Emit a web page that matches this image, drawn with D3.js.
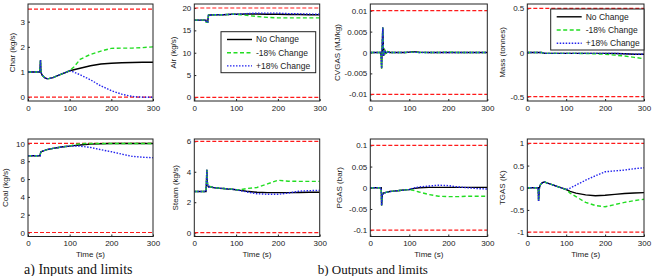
<!DOCTYPE html>
<html>
<head>
<meta charset="utf-8">
<script src="https://cdn.jsdelivr.net/npm/d3@7"></script>
<style>
body { margin: 0; background: #fff; }
svg { display: block; font-family: "Liberation Sans", Arial, sans-serif; }
</style>
</head>
<body>
<script>
// Time grids (s): the three runs share the first part, then split after ~100 s
const tEarly = [0, 27, 28, 29, 30, 31, 32, 34, 37, 40, 45, 50, 60, 70, 80, 90, 100];
const tLate = [110, 125, 150, 175, 200, 225, 250, 275, 300];

const seriesNames = ['No Change', '-18% Change', '+18% Change'];
const xTicks = [0, 100, 200, 300];

// Char (kg/s)
const charBase = [1.0, 1.0, 1.0, 1.2, 1.48, 1.05, 0.95, 0.88, 0.82, 0.78, 0.74, 0.74, 0.78, 0.85, 0.92, 0.98, 1.05];
const charNo = [1.09, 1.15, 1.25, 1.32, 1.35, 1.37, 1.38, 1.39, 1.39];
const charLow = [1.2, 1.5, 1.7, 1.83, 1.94, 1.95, 1.95, 1.97, 2.0];
const charHigh = [1.0, 0.89, 0.69, 0.45, 0.26, 0.12, 0.03, 0.0, 0.0];
const charTicks = [0, 1, 2, 3];
const charLimits = [0, 3.5];

// Air (kg/s)
const airBase = [17.3, 17.3, 17.3, 16.8, 16.8, 16.8, 16.8, 18.4, 18.45, 18.45, 18.5, 18.5, 18.5, 18.5, 18.55, 18.6, 18.6];
const airNo = [18.6, 18.65, 18.65, 18.6, 18.6, 18.55, 18.55, 18.5, 18.5];
const airLow = [18.5, 18.35, 18.1, 17.9, 17.8, 17.8, 17.8, 17.8, 17.8];
const airHigh = [18.65, 18.75, 18.85, 18.85, 18.85, 18.75, 18.7, 18.65, 18.6];
const airTicks = [0, 5, 10, 15, 20];
const airLimits = [0, 20];

// CVGAS (MJ/kg)
const cvBase = [0, 0, -0.001, -0.0038, 0, 0.003, 0.006, -0.0008, 0.0005, -0.0002, 0.0002, 0, 0, 0, 0, 0, 0.0001];
const cvNo = [0.0002, 0.0001, 0, 0, 0, 0, 0, 0, 0];
const cvLow = [0.0001, 0, 0, 0, 0.0001, 0, 0, 0, 0];
const cvHigh = [0.0001, 0, 0, 0, 0, 0, 0, 0, 0];
const cvTicks = [-0.01, -0.005, 0, 0.005, 0.01];
const cvLimits = [-0.01, 0.01];

// Mass (tonnes)
const massBase = [0, 0, 0, 0, 0, 0, 0, 0, 0, -0.005, -0.008, -0.01, -0.01, -0.01, -0.01, -0.01, -0.01];
const massNo = [-0.01, -0.01, -0.01, -0.01, -0.01, -0.012, -0.015, -0.02, -0.02];
const massLow = [-0.01, -0.01, -0.012, -0.015, -0.02, -0.03, -0.04, -0.055, -0.07];
const massHigh = [-0.01, -0.01, -0.01, -0.01, -0.01, -0.01, -0.015, -0.02, -0.02];
const massTicks = [-0.5, 0, 0.5];
const massLimits = [-0.5, 0.5];

// Coal (kg/s)
const coalBase = [8.62, 8.62, 8.62, 8.62, 8.9, 9.05, 9.08, 9.12, 9.18, 9.22, 9.3, 9.35, 9.45, 9.52, 9.6, 9.65, 9.7];
const coalNo = [9.75, 9.82, 9.92, 9.97, 10, 10, 10, 10, 10];
const coalLow = [9.85, 9.97, 10, 10, 10, 10, 10, 10, 10];
const coalHigh = [9.72, 9.7, 9.55, 9.3, 9.07, 8.8, 8.55, 8.45, 8.4];
const coalTicks = [0, 2, 4, 6, 8, 10];
const coalLimits = [0, 10];

// Steam (kg/s)
const steamBase = [2.7, 2.7, 2.7, 3.3, 4.13, 3.4, 3.1, 3.0, 3.03, 3.0, 2.97, 2.95, 2.92, 2.9, 2.87, 2.85, 2.82];
const steamNo = [2.78, 2.72, 2.65, 2.63, 2.63, 2.63, 2.64, 2.65, 2.65];
const steamLow = [2.82, 2.9, 2.97, 3.2, 3.44, 3.38, 3.37, 3.37, 3.37];
const steamHigh = [2.76, 2.68, 2.56, 2.52, 2.52, 2.6, 2.72, 2.76, 2.78];
const steamTicks = [0, 2, 4, 6];
const steamLimits = [0, 6];

// PGAS (bar)
const pgBase = [0, 0, 0, -0.042, -0.03, -0.012, -0.015, -0.012, -0.012, -0.011, -0.01, -0.009, -0.008, -0.007, -0.006, -0.005, -0.004];
const pgNo = [-0.002, 0, 0.001, 0.001, 0.001, 0.001, 0.001, 0.001, 0.001];
const pgLow = [-0.006, -0.01, -0.016, -0.02, -0.021, -0.021, -0.02, -0.02, -0.02];
const pgHigh = [-0.001, 0.002, 0.004, 0.006, 0.005, 0.002, 0, -0.002, -0.003];
const pgTicks = [-0.1, -0.05, 0, 0.05, 0.1];
const pgLimits = [-0.1, 0.1];

// TGAS (K)
const tgBase = [0, 0, 0, -0.3, -0.15, -0.02, 0.03, 0.07, 0.1, 0.12, 0.13, 0.11, 0.08, 0.05, 0.02, -0.01, -0.04];
const tgNo = [-0.08, -0.12, -0.16, -0.18, -0.17, -0.15, -0.13, -0.12, -0.11];
const tgLow = [-0.12, -0.2, -0.33, -0.4, -0.43, -0.38, -0.33, -0.29, -0.26];
const tgHigh = [-0.01, 0.06, 0.17, 0.27, 0.36, 0.38, 0.4, 0.43, 0.45];
const tgTicks = [-1, -0.5, 0, 0.5, 1];
const tgLimits = [-1, 1];

// layout (pixel boxes of the 8 small plots)
const cols = [[28, 153], [194.3, 319.7], [370.3, 487.3], [527.3, 644]];
const rows = [[4, 101], [139, 236.5]];

const panels = [
  {col: 0, row: 0, label: 'Char (kg/s)', off: 16, dom: [-0.15, 3.7], ticks: charTicks, lim: charLimits, base: charBase, runs: [charNo, charLow, charHigh]},
  {col: 1, row: 0, label: 'Air (kg/s)', off: 21, dom: [-0.8, 20.9], ticks: airTicks, lim: airLimits, base: airBase, runs: [airNo, airLow, airHigh], legend: [221, 31.7, 94.7, 41]},
  {col: 2, row: 0, label: 'CVGAS (MJ/kg)', off: 33.6, dom: [-0.0116, 0.0116], ticks: cvTicks, lim: cvLimits, base: cvBase, runs: [cvNo, cvLow, cvHigh]},
  {col: 3, row: 0, label: 'Mass (tonnes)', off: 25.6, dom: [-0.55, 0.55], ticks: massTicks, lim: massLimits, base: massBase, runs: [massNo, massLow, massHigh], legend: [550.7, 9, 93.3, 41]},
  {col: 0, row: 1, label: 'Coal (kg/s)', off: 22.7, dom: [-0.45, 10.5], ticks: coalTicks, lim: coalLimits, base: coalBase, runs: [coalNo, coalLow, coalHigh]},
  {col: 1, row: 1, label: 'Steam (kg/s)', off: 19.3, dom: [-0.25, 6.15], ticks: steamTicks, lim: steamLimits, base: steamBase, runs: [steamNo, steamLow, steamHigh]},
  {col: 2, row: 1, label: 'PGAS (bar)', off: 31.3, dom: [-0.115, 0.115], ticks: pgTicks, lim: pgLimits, base: pgBase, runs: [pgNo, pgLow, pgHigh]},
  {col: 3, row: 1, label: 'TGAS (K)', off: 25.6, dom: [-1.1, 1.1], ticks: tgTicks, lim: tgLimits, base: tgBase, runs: [tgNo, tgLow, tgHigh]}
];

// line styles for the three runs
const styles = [
  {color: '#000', dash: null},
  {color: '#22dd22', dash: '4,2.5'},
  {color: '#2222ee', dash: '1.5,1.5'}
];

const svg = d3.select('body').append('svg')
  .attr('width', 654)
  .attr('height', 276);

panels.forEach((p, i) => {
  const [x0, x1] = cols[p.col];
  const [y0, y1] = rows[p.row];

  const x = d3.scaleLinear().domain([0, 300]).range([x0, x1]);
  const y = d3.scaleLinear().domain(p.dom).range([y1, y0]);

  const g = svg.append('g');

  svg.append('clipPath').attr('id', 'clip' + i)
    .append('rect')
    .attr('x', x0).attr('y', y0)
    .attr('width', x1 - x0).attr('height', y1 - y0);

  // axes
  const gy = g.append('g')
    .attr('transform', `translate(${x0},0)`)
    .call(d3.axisLeft(y).tickValues(p.ticks).tickSize(-2).tickPadding(3).tickFormat(d => String(d)));
  const gx = g.append('g')
    .attr('transform', `translate(0,${y1})`)
    .call(d3.axisBottom(x).tickValues(xTicks).tickSize(-2).tickPadding(4).tickFormat(d => String(d)));
  [gx, gy].forEach(a => {
    a.select('.domain').remove();
    a.selectAll('text').attr('font-size', 8).attr('fill', '#222').attr('font-family', '"Liberation Sans", Arial, sans-serif');
    a.selectAll('line').attr('stroke', '#222');
  });

  // y label
  g.append('text')
    .attr('transform', `translate(${x0 - p.off},${(y0 + y1) / 2}) rotate(-90)`)
    .attr('text-anchor', 'middle')
    .attr('dy', '0.35em')
    .attr('font-size', 8)
    .attr('fill', '#222')
    .text(p.label);

  if (p.row === 1) {
    g.append('text')
      .attr('x', (x0 + x1) / 2)
      .attr('y', y1 + 20.5)
      .attr('text-anchor', 'middle')
      .attr('font-size', 8)
      .attr('fill', '#222')
      .text('Time (s)');
  }

  const plot = g.append('g').attr('clip-path', `url(#clip${i})`);

  // limits
  plot.selectAll('line.limit').data(p.lim).join('line')
    .attr('class', 'limit')
    .attr('x1', x0).attr('x2', x1)
    .attr('y1', d => y(d)).attr('y2', d => y(d))
    .attr('stroke', '#ff1a1a')
    .attr('stroke-width', 1.2)
    .attr('stroke-dasharray', '4,2');

  const line = d3.line().x(d => x(d[0])).y(d => y(d[1]));

  p.runs.forEach((run, k) => {
    const pts = tEarly.map((t, j) => [t, p.base[j]])
      .concat(tLate.map((t, j) => [t, run[j]]));
    plot.append('path')
      .datum(pts)
      .attr('d', line)
      .attr('fill', 'none')
      .attr('stroke', styles[k].color)
      .attr('stroke-width', 1.4)
      .attr('stroke-dasharray', styles[k].dash);
  });

  // frame
  g.append('rect')
    .attr('x', x0).attr('y', y0)
    .attr('width', x1 - x0).attr('height', y1 - y0)
    .attr('fill', 'none')
    .attr('stroke', '#222')
    .attr('stroke-width', 1);

  if (p.legend) drawLegend(p.legend);
});

function drawLegend([lx, ly, lw, lh]) {
  const lg = svg.append('g');
  lg.append('rect')
    .attr('x', lx).attr('y', ly)
    .attr('width', lw).attr('height', lh)
    .attr('fill', '#fff')
    .attr('stroke', '#222')
    .attr('stroke-width', 1);
  seriesNames.forEach((name, k) => {
    const yy = ly + 7.8 + k * 13.2;
    lg.append('line')
      .attr('x1', lx + 6).attr('x2', lx + 31)
      .attr('y1', yy).attr('y2', yy)
      .attr('stroke', styles[k].color)
      .attr('stroke-width', 1.4)
      .attr('stroke-dasharray', styles[k].dash);
    lg.append('text')
      .attr('x', lx + 35)
      .attr('y', yy)
      .attr('dy', '0.35em')
      .attr('font-size', 8.5)
      .attr('fill', '#222')
      .text(name);
  });
}

// captions
svg.append('text')
  .attr('x', 24).attr('y', 273.5)
  .attr('font-family', '"Liberation Serif", "Times New Roman", serif')
  .attr('font-size', 14)
  .attr('fill', '#111')
  .text('a) Inputs and limits');
svg.append('text')
  .attr('x', 317.7).attr('y', 273.5)
  .attr('font-family', '"Liberation Serif", "Times New Roman", serif')
  .attr('font-size', 13)
  .attr('fill', '#111')
  .text('b) Outputs and limits');
</script>
</body>
</html>
